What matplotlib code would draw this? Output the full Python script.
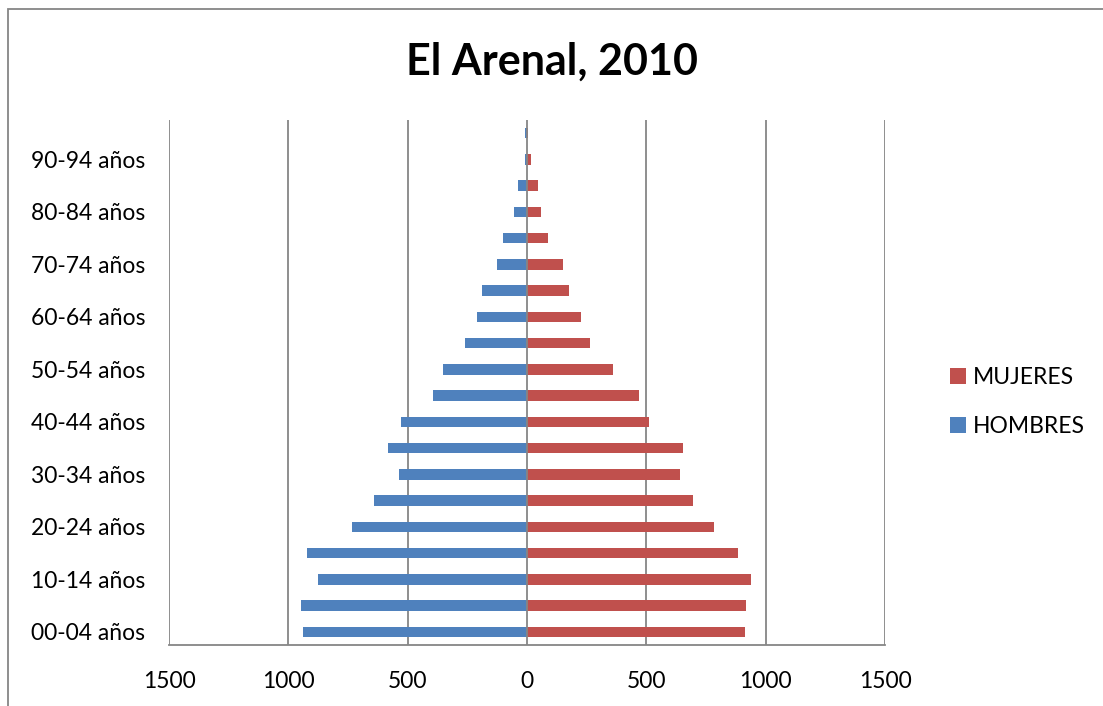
import matplotlib.pyplot as plt
import numpy as np
from matplotlib.patches import Rectangle

plt.rcParams['font.family'] = ['Lato', 'DejaVu Sans']

# datos: grupos de edad (de 00-04 a 95-99)
grupos = ['00-04 años', '05-09 años', '10-14 años', '15-19 años', '20-24 años',
          '25-29 años', '30-34 años', '35-39 años', '40-44 años', '45-49 años',
          '50-54 años', '55-59 años', '60-64 años', '65-69 años', '70-74 años',
          '75-79 años', '80-84 años', '85-89 años', '90-94 años', '95-99 años']
hombres = [939, 949, 875, 923, 733, 640, 537, 584, 529, 394,
           350, 259, 210, 190, 127, 99, 53, 36, 10, 10]
mujeres = [913, 917, 939, 883, 784, 695, 642, 653, 511, 471,
           360, 263, 228, 174, 150, 87, 59, 46, 18, 4]

azul = '#4F81BD'
rojo = '#C0504D'
gris = '#868686'

fig = plt.figure(figsize=(11.03, 7.06), dpi=100)
ax = fig.add_axes([169 / 1103, 1 - 645 / 706, (885 - 169) / 1103, (645 - 120) / 706])

y = np.arange(len(grupos))
ax.barh(y, mujeres, height=0.4, color=rojo, label='MUJERES', zorder=3)
ax.barh(y, -np.array(hombres), height=0.4, color=azul, label='HOMBRES', zorder=3)

ax.set_xlim(-1500, 1500)
ax.set_ylim(-0.5, len(grupos) - 0.5)

# rejilla vertical
xt = np.arange(-1500, 1501, 500)
for v in xt:
    ax.axvline(v, color=gris, lw=1.3, zorder=1 if v != 0 else 4)
ax.set_xticks(xt)
ax.set_xticklabels([str(abs(v)) for v in xt], fontsize=16.5)
ax.set_yticks(y[::2])
ax.set_yticklabels(grupos[::2], fontsize=16.5)
ax.tick_params(length=0)
ax.tick_params(axis='x', pad=19)
ax.tick_params(axis='y', pad=17)

for s in ['top', 'right', 'left']:
    ax.spines[s].set_visible(False)
ax.spines['bottom'].set_color(gris)
ax.spines['bottom'].set_linewidth(1.3)

fig.text(0.5, 1 - 62 / 706, 'El Arenal, 2010', fontsize=31, fontweight='bold',
         ha='center', va='center')

handles, labels = ax.get_legend_handles_labels()
fig.legend(handles, labels, loc='center left', bbox_to_anchor=(950 / 1103, 1 - 402 / 706),
           frameon=False, fontsize=16.5, handlelength=0.7, handleheight=0.7,
           handletextpad=0.3, labelspacing=1.25, borderaxespad=0, borderpad=0)

# borde del área del gráfico
fig.patches.append(Rectangle((8 / 1103, -0.1), 1.2, 1 - 9 / 706 + 0.1,
                             transform=fig.transFigure, fill=False,
                             edgecolor=gris, lw=1.3))

plt.savefig('out.png', dpi=100)
